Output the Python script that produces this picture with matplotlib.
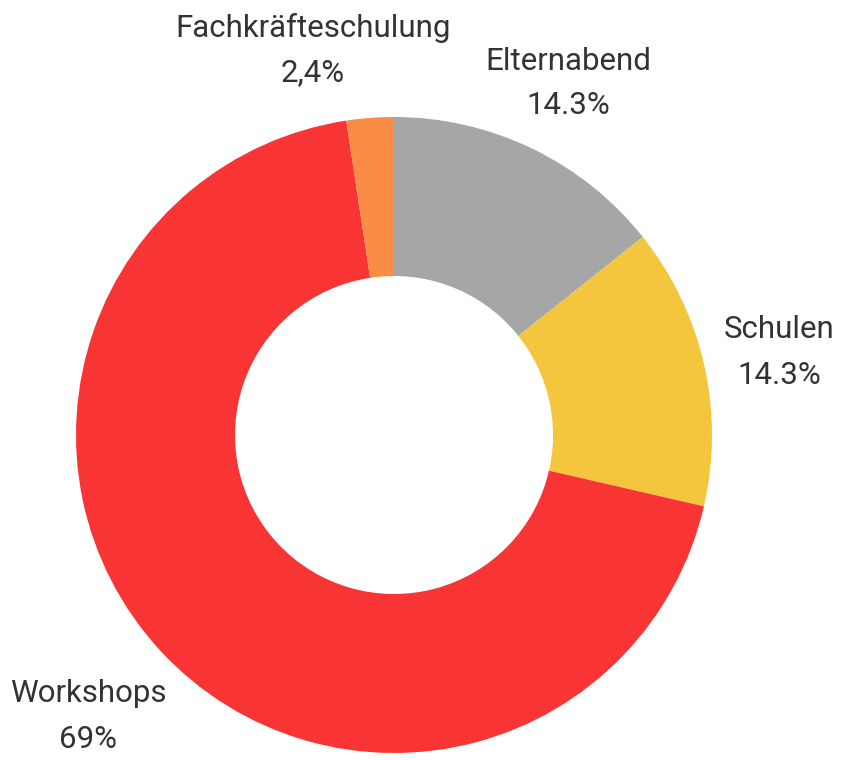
import matplotlib.pyplot as plt

# Daten
labels = ["Elternabend", "Schulen", "Workshops", "Fachkräfteschulung"]
values = [14.3, 14.3, 69.0, 2.4]
value_text = ["14.3%", "14.3%", "69%", "2,4%"]
colors = ["#a6a6a6", "#f4c63d", "#f83434", "#fb8c45"]

W, H = 841, 760
fig = plt.figure(figsize=(W / 100, H / 100), dpi=100)
ax = fig.add_axes([0, 0, 1, 1])
ax.axis("off")

cx, cy, r = 394, 435, 318
ax.pie(values, colors=colors, startangle=90, counterclock=False,
       center=(cx, H - cy), radius=r,
       wedgeprops=dict(width=r * 0.5, linewidth=0))
ax.set_xlim(0, W)
ax.set_ylim(0, H)
ax.set_aspect("equal")

# Beschriftungen (Pixelpositionen im Bild)
label_pos = {
    "Elternabend": (568, 61),
    "Schulen": (779, 330),
    "Workshops": (88, 694),
    "Fachkräfteschulung": (313, 28),
}
for lab, vt in zip(labels, value_text):
    x, y = label_pos[lab]
    ax.text(x, H - y, lab, ha="center", va="center", fontsize=22.5,
            family="Roboto", color="#333333")
    ax.text(x, H - y - 45, vt, ha="center", va="center", fontsize=22.5,
            family="Roboto", color="#333333")

fig.savefig("out.png", dpi=100)
